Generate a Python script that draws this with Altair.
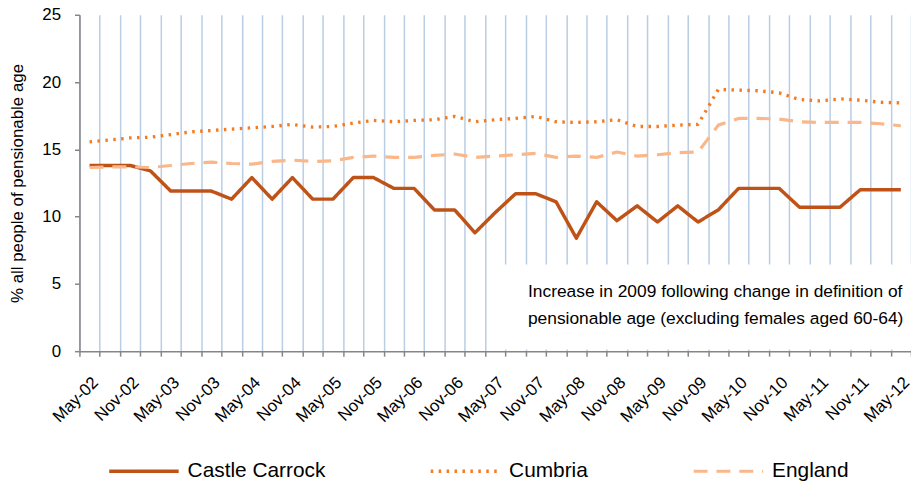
import altair as alt
import pandas as pd

months = ["May-02", "Aug-02", "Nov-02", "Feb-03", "May-03", "Aug-03", "Nov-03", "Feb-04",
          "May-04", "Aug-04", "Nov-04", "Feb-05", "May-05", "Aug-05", "Nov-05", "Feb-06",
          "May-06", "Aug-06", "Nov-06", "Feb-07", "May-07", "Aug-07", "Nov-07", "Feb-08",
          "May-08", "Aug-08", "Nov-08", "Feb-09", "May-09", "Aug-09", "Nov-09", "Feb-10",
          "May-10", "Aug-10", "Nov-10", "Feb-11", "May-11", "Aug-11", "Nov-11", "Feb-12",
          "May-12"]

castle_carrock = [13.8, 13.8, 13.8, 13.4, 11.9, 11.9, 11.9, 11.3, 12.9, 11.3, 12.9, 11.3,
                  11.3, 12.9, 12.9, 12.1, 12.1, 10.5, 10.5, 8.8, 10.3, 11.7, 11.7, 11.1,
                  8.4, 11.1, 9.7, 10.8, 9.6, 10.8, 9.6, 10.5, 12.1, 12.1, 12.1, 10.7,
                  10.7, 10.7, 12.0, 12.0, 12.0]

cumbria = [15.55, 15.7, 15.85, 15.9, 16.1, 16.3, 16.4, 16.5, 16.6, 16.7, 16.85, 16.65,
           16.7, 16.95, 17.15, 17.05, 17.15, 17.2, 17.45, 17.05, 17.2, 17.3, 17.45, 17.05,
           17.0, 17.05, 17.2, 16.7, 16.7, 16.8, 16.85, 19.45, 19.4, 19.35, 19.2, 18.7,
           18.6, 18.75, 18.65, 18.5, 18.45]

england = [13.65, 13.7, 13.7, 13.65, 13.8, 13.95, 14.05, 13.95, 13.9, 14.1, 14.2, 14.1,
           14.15, 14.4, 14.5, 14.4, 14.4, 14.55, 14.65, 14.4, 14.5, 14.6, 14.7, 14.4,
           14.5, 14.4, 14.8, 14.5, 14.6, 14.75, 14.8, 16.8, 17.3, 17.3, 17.25, 17.05,
           17.0, 17.0, 17.0, 16.9, 16.75]

series_names = ["Castle Carrock", "Cumbria", "England"]
series_colors = ["#BF5317", "#F47B20", "#F9B78A"]
series_dashes = [[1, 0], [2.5, 5.5], [14, 9]]
series_widths = [3.5, 3.2, 4]

note_lines = ["Increase in 2009 following change in definition of",
              "pensionable age (excluding females aged 60-64)"]

rows = []
for name, vals in zip(series_names, [castle_carrock, cumbria, england]):
    for m, v in zip(months, vals):
        rows.append({"month": m, "series": name, "value": v})
df = pd.DataFrame(rows)

W, H = 838, 339
FONT = "Liberation Sans"

x_enc = alt.X(
    "month:N", sort=months,
    scale=alt.Scale(type="band", paddingInner=0, paddingOuter=0),
    axis=alt.Axis(
        title=None, tickBand="extent", grid=True, gridColor="#B9CDE5", gridWidth=1.5,
        domainColor="#868686", domainWidth=1.5, tickColor="#868686", tickWidth=1.5,
        tickSize=5, labelAngle=-45, labelFontSize=17, labelColor="black",
        labelOverlap=False, labelPadding=18,
        labelExpr="indexof(datum.label, 'May') >= 0 || indexof(datum.label, 'Nov') >= 0 ? datum.label : ''",
    ),
)

y_scale = alt.Scale(domain=[0, 25], nice=False, zero=True)
y_axis = alt.Axis(
    values=[0, 5, 10, 15, 20, 25], grid=False, domainColor="#868686", domainWidth=1.5,
    tickColor="#868686", tickWidth=1.5, tickSize=5, labelFontSize=17, labelColor="black",
    labelPadding=14, title="% all people of pensionable age", titleFontSize=17,
    titleFontWeight="normal", titleColor="black", titlePadding=15,
)

legend = alt.Legend(
    title=None, orient="none", legendX=28, legendY=423, direction="horizontal",
    symbolType="stroke", symbolSize=4900, symbolStrokeWidth=4,
    labelFontSize=21, labelColor="black", labelOffset=7, columnPadding=99,
    labelLimit=300,
)

lines = alt.Chart(df).mark_line(strokeCap="butt", strokeJoin="round").encode(
    x=x_enc,
    y=alt.Y("value:Q", scale=y_scale, axis=y_axis),
    color=alt.Color(
        "series:N", sort=series_names,
        scale=alt.Scale(domain=series_names, range=series_colors),
        legend=legend,
    ),
    strokeDash=alt.StrokeDash(
        "series:N", sort=series_names,
        scale=alt.Scale(domain=series_names, range=series_dashes),
        legend=legend,
    ),
    strokeWidth=alt.StrokeWidth(
        "series:N", sort=series_names,
        scale=alt.Scale(domain=series_names, range=series_widths),
        legend=None,
    ),
    detail="series:N",
)

dummy = pd.DataFrame({"k": [0]})

box = alt.Chart(dummy).mark_rect(color="white").encode(
    x=alt.value(427), x2=alt.value(W),
    y=alt.datum(6.45, scale=y_scale), y2=alt.datum(0.12),
)

note = alt.Chart(dummy).mark_text(
    text=note_lines, align="left", baseline="alphabetic", fontSize=17.5,
    lineHeight=28, color="black", font=FONT,
).encode(x=alt.value(452), y=alt.value(284))

chart = alt.layer(box, lines, note).properties(
    width=W, height=H,
    autosize=alt.AutoSizeParams(type="none"),
    padding={"left": 72, "top": 5, "right": 0, "bottom": 130},
).configure(font=FONT).configure_view(stroke=None)

chart.save("out.html", embed_options={"renderer": "svg", "actions": False})
